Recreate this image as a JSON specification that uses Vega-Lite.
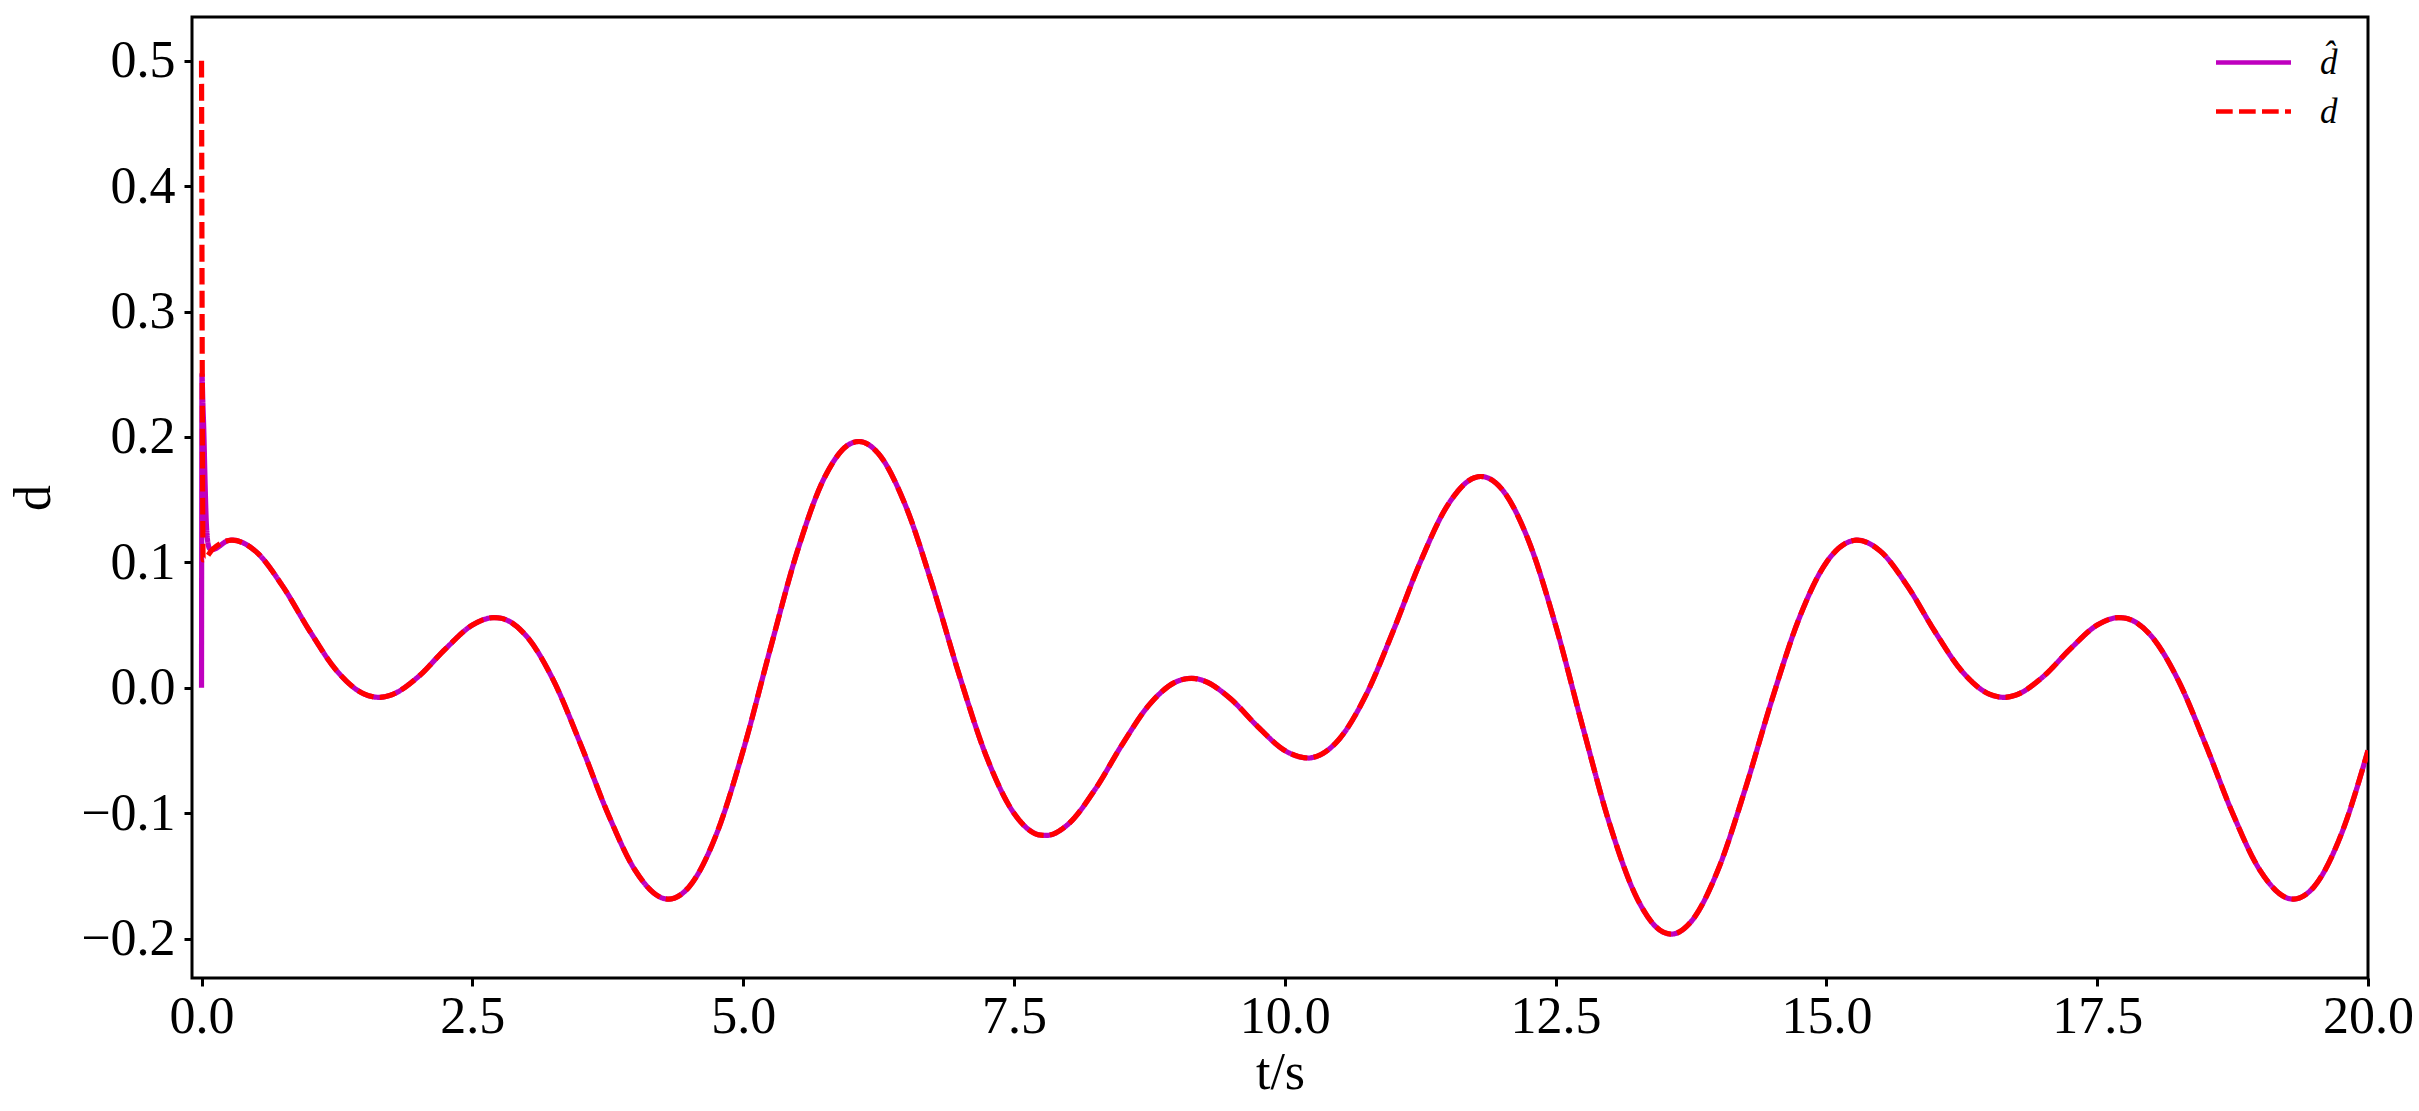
{
  "$schema": "https://vega.github.io/schema/vega-lite/v6.json",
  "autosize": {"type": "none"},
  "padding": {"left": 192, "top": 17, "right": 51, "bottom": 133},
  "width": 2176,
  "height": 961,
  "background": "white",
  "data": {"values": [
    {"t": 0, "dh": 0, "d": 0.5},
    {"t": 0.004, "dh": 0.25, "d": null},
    {"t": 0.012, "dh": 0.228, "d": null},
    {"t": 0.015, "dh": null, "d": 0.102},
    {"t": 0.021, "dh": 0.205, "d": null},
    {"t": 0.033, "dh": 0.163, "d": null},
    {"t": 0.043, "dh": 0.134, "d": null},
    {"t": 0.055, "dh": 0.118, "d": null},
    {"t": 0.075, "dh": 0.111, "d": null},
    {"t": 0.1, "dh": 0.1103, "d": 0.1103},
    {"t": 0.25, "dh": 0.1175, "d": 0.1175},
    {"t": 0.28, "dh": 0.1178, "d": 0.1178},
    {"t": 0.5, "dh": 0.1088, "d": 0.1088},
    {"t": 0.75, "dh": 0.0809, "d": 0.0809},
    {"t": 1.0, "dh": 0.0451, "d": 0.0451},
    {"t": 1.25, "dh": 0.0134, "d": 0.0134},
    {"t": 1.5, "dh": -0.0049, "d": -0.0049},
    {"t": 1.64, "dh": -0.0076, "d": -0.0076},
    {"t": 1.75, "dh": -0.0057, "d": -0.0057},
    {"t": 2.0, "dh": 0.0088, "d": 0.0088},
    {"t": 2.25, "dh": 0.0309, "d": 0.0309},
    {"t": 2.5, "dh": 0.05, "d": 0.05},
    {"t": 2.7, "dh": 0.056, "d": 0.056},
    {"t": 2.75, "dh": 0.0557, "d": 0.0557},
    {"t": 3.0, "dh": 0.0412, "d": 0.0412},
    {"t": 3.25, "dh": 0.0057, "d": 0.0057},
    {"t": 3.5, "dh": -0.0451, "d": -0.0451},
    {"t": 3.75, "dh": -0.1, "d": -0.1},
    {"t": 4.0, "dh": -0.1451, "d": -0.1451},
    {"t": 4.25, "dh": -0.1675, "d": -0.1675},
    {"t": 4.31, "dh": -0.1685, "d": -0.1685},
    {"t": 4.5, "dh": -0.1588, "d": -0.1588},
    {"t": 4.75, "dh": -0.1175, "d": -0.1175},
    {"t": 5.0, "dh": -0.05, "d": -0.05},
    {"t": 5.25, "dh": 0.0309, "d": 0.0309},
    {"t": 5.5, "dh": 0.1088, "d": 0.1088},
    {"t": 5.75, "dh": 0.1675, "d": 0.1675},
    {"t": 6.0, "dh": 0.1951, "d": 0.1951},
    {"t": 6.07, "dh": 0.1964, "d": 0.1964},
    {"t": 6.25, "dh": 0.1866, "d": 0.1866},
    {"t": 6.5, "dh": 0.1451, "d": 0.1451},
    {"t": 6.75, "dh": 0.0809, "d": 0.0809},
    {"t": 7.0, "dh": 0.0088, "d": 0.0088},
    {"t": 7.25, "dh": -0.0557, "d": -0.0557},
    {"t": 7.5, "dh": -0.1, "d": -0.1},
    {"t": 7.75, "dh": -0.1175, "d": -0.1175},
    {"t": 7.8, "dh": -0.1177, "d": -0.1177},
    {"t": 8.0, "dh": -0.1088, "d": -0.1088},
    {"t": 8.25, "dh": -0.0809, "d": -0.0809},
    {"t": 8.5, "dh": -0.0451, "d": -0.0451},
    {"t": 8.75, "dh": -0.0134, "d": -0.0134},
    {"t": 9.0, "dh": 0.0049, "d": 0.0049},
    {"t": 9.14, "dh": 0.0076, "d": 0.0076},
    {"t": 9.25, "dh": 0.0057, "d": 0.0057},
    {"t": 9.5, "dh": -0.0088, "d": -0.0088},
    {"t": 9.75, "dh": -0.0309, "d": -0.0309},
    {"t": 10.0, "dh": -0.05, "d": -0.05},
    {"t": 10.22, "dh": -0.056, "d": -0.056},
    {"t": 10.25, "dh": -0.0557, "d": -0.0557},
    {"t": 10.5, "dh": -0.0412, "d": -0.0412},
    {"t": 10.75, "dh": -0.0057, "d": -0.0057},
    {"t": 11.0, "dh": 0.0451, "d": 0.0451},
    {"t": 11.25, "dh": 0.1, "d": 0.1},
    {"t": 11.5, "dh": 0.1451, "d": 0.1451},
    {"t": 11.75, "dh": 0.1675, "d": 0.1675},
    {"t": 11.81, "dh": 0.1685, "d": 0.1685},
    {"t": 12.0, "dh": 0.1588, "d": 0.1588},
    {"t": 12.25, "dh": 0.1175, "d": 0.1175},
    {"t": 12.5, "dh": 0.05, "d": 0.05},
    {"t": 12.75, "dh": -0.0309, "d": -0.0309},
    {"t": 13.0, "dh": -0.1088, "d": -0.1088},
    {"t": 13.25, "dh": -0.1675, "d": -0.1675},
    {"t": 13.5, "dh": -0.1951, "d": -0.1951},
    {"t": 13.57, "dh": -0.1964, "d": -0.1964},
    {"t": 13.75, "dh": -0.1866, "d": -0.1866},
    {"t": 14.0, "dh": -0.1451, "d": -0.1451},
    {"t": 14.25, "dh": -0.0809, "d": -0.0809},
    {"t": 14.5, "dh": -0.0088, "d": -0.0088},
    {"t": 14.75, "dh": 0.0557, "d": 0.0557},
    {"t": 15.0, "dh": 0.1, "d": 0.1},
    {"t": 15.25, "dh": 0.1175, "d": 0.1175},
    {"t": 15.28, "dh": 0.1178, "d": 0.1178},
    {"t": 15.5, "dh": 0.1088, "d": 0.1088},
    {"t": 15.75, "dh": 0.0809, "d": 0.0809},
    {"t": 16.0, "dh": 0.0451, "d": 0.0451},
    {"t": 16.25, "dh": 0.0134, "d": 0.0134},
    {"t": 16.5, "dh": -0.0049, "d": -0.0049},
    {"t": 16.64, "dh": -0.0076, "d": -0.0076},
    {"t": 16.75, "dh": -0.0057, "d": -0.0057},
    {"t": 17.0, "dh": 0.0088, "d": 0.0088},
    {"t": 17.25, "dh": 0.0309, "d": 0.0309},
    {"t": 17.5, "dh": 0.05, "d": 0.05},
    {"t": 17.7, "dh": 0.056, "d": 0.056},
    {"t": 17.75, "dh": 0.0557, "d": 0.0557},
    {"t": 18.0, "dh": 0.0412, "d": 0.0412},
    {"t": 18.25, "dh": 0.0057, "d": 0.0057},
    {"t": 18.5, "dh": -0.0451, "d": -0.0451},
    {"t": 18.75, "dh": -0.1, "d": -0.1},
    {"t": 19.0, "dh": -0.1451, "d": -0.1451},
    {"t": 19.25, "dh": -0.1675, "d": -0.1675},
    {"t": 19.31, "dh": -0.1685, "d": -0.1685},
    {"t": 19.5, "dh": -0.1588, "d": -0.1588},
    {"t": 19.75, "dh": -0.1175, "d": -0.1175},
    {"t": 20.0, "dh": -0.05, "d": -0.05}
  ]},
  "transform": [
    {"fold": ["dh", "d"], "as": ["s", "v"]},
    {"filter": "isValid(datum.v)"}
  ],
  "encoding": {
    "x": {
      "field": "t", "type": "quantitative",
      "scale": {"domain": [-0.088, 20], "nice": false, "zero": false},
      "axis": {
        "title": "t/s",
        "values": [0, 2.5, 5, 7.5, 10, 12.5, 15, 17.5, 20],
        "format": ".1f",
        "labelPadding": 5,
        "titlePadding": 5
      }
    },
    "y": {
      "field": "v", "type": "quantitative",
      "scale": {"domain": [-0.2314, 0.5349], "nice": false, "zero": false},
      "axis": {
        "title": "d",
        "values": [-0.2, -0.1, 0, 0.1, 0.2, 0.3, 0.4, 0.5],
        "labelExpr": "replace(format(datum.value, '.1f'), '-', '\u2212')",
        "labelPadding": 9,
        "titlePadding": 20
      }
    },
    "color": {
      "field": "s", "type": "nominal",
      "scale": {"domain": ["dh", "d"], "range": ["#bf00bf", "#ff0000"]},
      "legend": {
        "title": null,
        "orient": "none",
        "legendX": 2044,
        "legendY": 28,
        "labelExpr": "datum.value == 'dh' ? 'd\u0302' : 'd'"
      }
    },
    "strokeDash": {
      "field": "s", "type": "nominal",
      "scale": {"domain": ["dh", "d"], "range": [[1, 0], [16.7, 6.3]]},
      "legend": {
        "title": null,
        "orient": "none",
        "legendX": 2044,
        "legendY": 28,
        "labelExpr": "datum.value == 'dh' ? 'd\u0302' : 'd'"
      }
    }
  },
  "layer": [
    {
      "transform": [{"filter": "datum.s == 'dh'"}],
      "mark": {"type": "line", "interpolate": "monotone", "strokeWidth": 5.2, "clip": true}
    },
    {
      "transform": [{"filter": "datum.s == 'd'"}],
      "mark": {"type": "line", "interpolate": "monotone", "strokeWidth": 5.2, "clip": true}
    }
  ],
  "config": {
    "view": {"stroke": "#000", "strokeWidth": 3},
    "axis": {
      "domain": false,
      "grid": false,
      "ticks": true,
      "tickColor": "#000",
      "tickWidth": 3,
      "tickSize": 8,
      "labelFont": "Liberation Serif",
      "labelFontSize": 52,
      "labelColor": "#000",
      "labelFlush": false,
      "labelOverlap": false,
      "titleFont": "Liberation Serif",
      "titleFontSize": 52,
      "titleFontWeight": "normal",
      "titleColor": "#000"
    },
    "legend": {
      "symbolType": "M-2.5,0H2.5",
      "symbolSize": 900,
      "symbolStrokeWidth": 4.7,
      "labelFont": "Liberation Serif",
      "labelFontStyle": "italic",
      "labelFontSize": 35,
      "labelColor": "#000",
      "labelOffset": 49,
      "rowPadding": 13,
      "padding": 0
    }
  }
}
